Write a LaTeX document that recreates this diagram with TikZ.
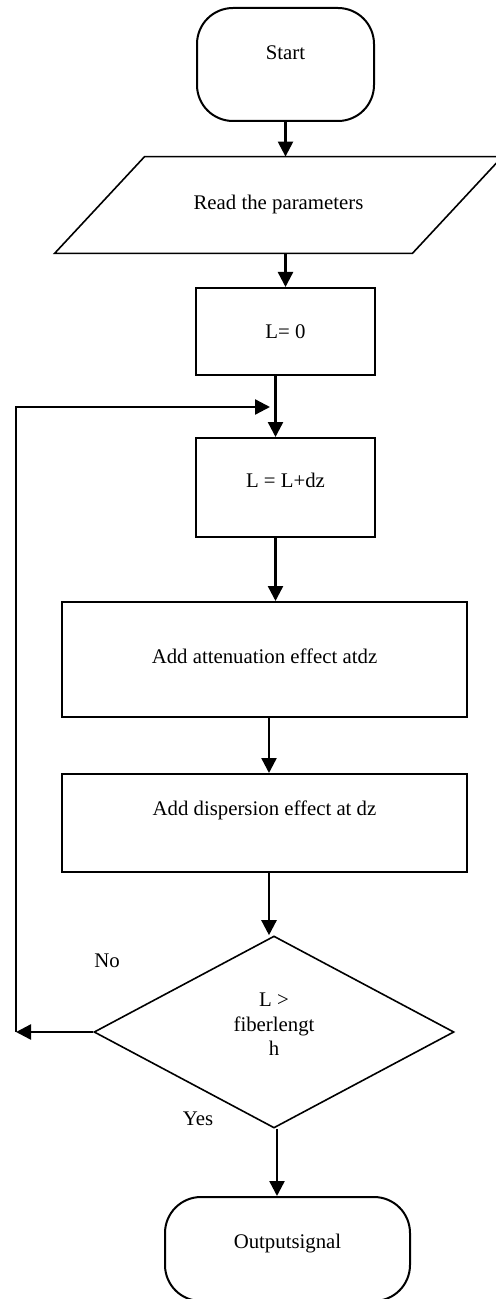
\documentclass[tikz,border=0pt]{standalone}
\usepackage{fontspec}
\setmainfont{Liberation Serif}
\usetikzlibrary{arrows.meta,positioning,shapes.geometric,calc}
\tikzset{
  box/.style ={draw,line width=1pt,inner sep=0pt,align=center},
  term/.style={draw,line width=1pt,rounded corners=18pt,inner sep=0pt,align=center},
  cond/.style={diamond,draw,line width=0.8pt,inner sep=0pt,align=center},
  flow/.style={-{Triangle[length=7.5pt,width=7.5pt]},line width=1.2pt},
  lift/.style={text depth=#1}
}

\begin{document}
\begin{tikzpicture}[x=0.5pt,y=-0.5pt,every node/.style={font=\fontsize{10.4}{12.25}\selectfont}]
    \useasboundingbox (0,0) rectangle (495,1299);
    \node[term,minimum width=88.5pt,minimum height=56.5pt,lift=11.9pt] (start) at (285.5,64.5) {Start};
    \node[minimum width=178.5pt,minimum height=48pt,inner sep=0pt] (param) at (278.5,205) {Read the parameters};
    \draw[line width=0.8pt] ([xshift=22.5pt]param.north west) -- ([xshift=22.5pt]param.north east)
        -- ([xshift=-22.5pt]param.south east) -- ([xshift=-22.5pt]param.south west) -- cycle;
    \node[box,minimum width=89.5pt,minimum height=43.5pt] (lzero) at (285.5,331.5) {L= 0};
    \node[box,minimum width=89.5pt,minimum height=49.5pt,lift=6.9pt] (ldz) at (285.5,487.5) {L = L+dz};
    \node[box,minimum width=202.5pt,minimum height=57.5pt,lift=2.9pt] (atten) at (264.5,659.5) {Add attenuation effect atdz};
    \node[box,minimum width=202.5pt,minimum height=49pt,lift=14.4pt] (disp) at (264.5,823) {Add dispersion effect at dz};
    \node[cond,minimum width=180pt,minimum height=96pt,lift=7.5pt] (check) at (274,1032) {L >\\fiberlengt\\h};
    \node[term,minimum width=122.5pt,minimum height=52pt,lift=7.4pt] (output) at (287.5,1249) {Outputsignal};
    \node (no) at (107,961) {No};
    \node (yes) at (198,1119) {Yes};
    \coordinate (back) at (16,1032);
    \coordinate (join) at (270,407);
    % main flow
    \draw[flow] (start.south) -- (start.south |- param.north);
    \draw[flow] (lzero.north |- param.south) -- (lzero.north);
    \draw[flow] ([xshift=-5pt]lzero.south) -- ([xshift=-5pt]ldz.north);
    \draw[flow] ([xshift=-5pt]ldz.south) -- ([xshift=-5pt]ldz.south |- atten.north);
    \draw[flow] ([xshift=2.25pt]atten.south) -- ([xshift=2.25pt]disp.north);
    \draw[flow] ([xshift=2.25pt]disp.south) -- ([xshift=2.25pt]disp.south |- check.north);
    \draw[flow] ([xshift=1.5pt]check.south) -- ([xshift=1.5pt]check.south |- output.north);
    % loop back
    \draw[flow] (check.west) -- (back);
    \draw[flow] (back) |- (join);
\end{tikzpicture}
\end{document}
